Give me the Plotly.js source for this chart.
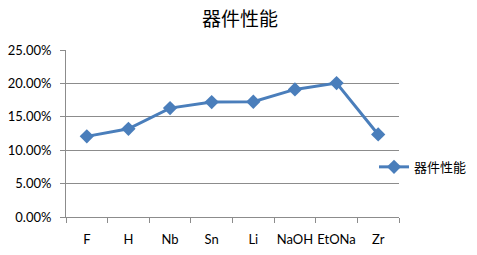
<!DOCTYPE html>
<html><head><meta charset="utf-8">
<script src="https://cdn.plot.ly/plotly-3.0.1.min.js"></script>
<style>body{margin:0;background:#fff}#c{width:477px;height:255px}</style>
</head><body><div id="c"></div>
<script>
const categories = ["F","H","Nb","Sn","Li","NaOH","EtONa","Zr"];
const values = [0.1207, 0.1320, 0.1630, 0.1720, 0.1725, 0.1910, 0.2005, 0.1236];
const seriesName = "器件性能";
const yTicks = [0, 0.05, 0.10, 0.15, 0.20, 0.25];
const yTickLabels = ["0.00%","5.00%","10.00%","15.00%","20.00%","25.00%"];

const font = "Lato, 'Noto Sans CJK SC', sans-serif";
Plotly.newPlot("c", [{
  x: categories, y: values, name: seriesName, type: "scatter", mode: "lines+markers",
  line: {color: "#4a7ebb", width: 3},
  marker: {symbol: "diamond", size: 11, color: "#4a7ebb"}
}], {
  width: 477, height: 255,
  margin: {l: 66, r: 78, t: 50, b: 38, autoexpand: false},
  paper_bgcolor: "#fff", plot_bgcolor: "#fff",
  font: {family: font, size: 13, color: "#000"},
  title: {text: seriesName, font: {family: "'Noto Sans CJK SC', sans-serif", size: 19, color: "#000", weight: "normal"}, x: 0.503, xanchor: "center", y: 0.925, yanchor: "middle"},
  showlegend: true,
  legend: {x: 0.925, xanchor: "left", y: 0.3, yanchor: "middle", font: {family: "'Noto Sans CJK SC', sans-serif", size: 13}, bgcolor: "rgba(0,0,0,0)"},
  xaxis: {type: "category", range: [-0.5, 7.5], showgrid: false, showline: true, linecolor: "#8c8c8c", linewidth: 1, tickangle: 0,
    ticks: "outside", tickson: "boundaries", ticklen: 5, tickcolor: "#8c8c8c", ticklabelstandoff: 10, zeroline: false, fixedrange: true},
  yaxis: {range: [0, 0.25], tickvals: yTicks, ticktext: yTickLabels, showgrid: true, gridcolor: "#8c8c8c", gridwidth: 1,
    showline: true, linecolor: "#8c8c8c", ticks: "outside", ticklen: 5, tickcolor: "#8c8c8c", ticklabelstandoff: 6, zeroline: false, fixedrange: true}
}, {displayModeBar: false, staticPlot: true});
</script></body></html>
